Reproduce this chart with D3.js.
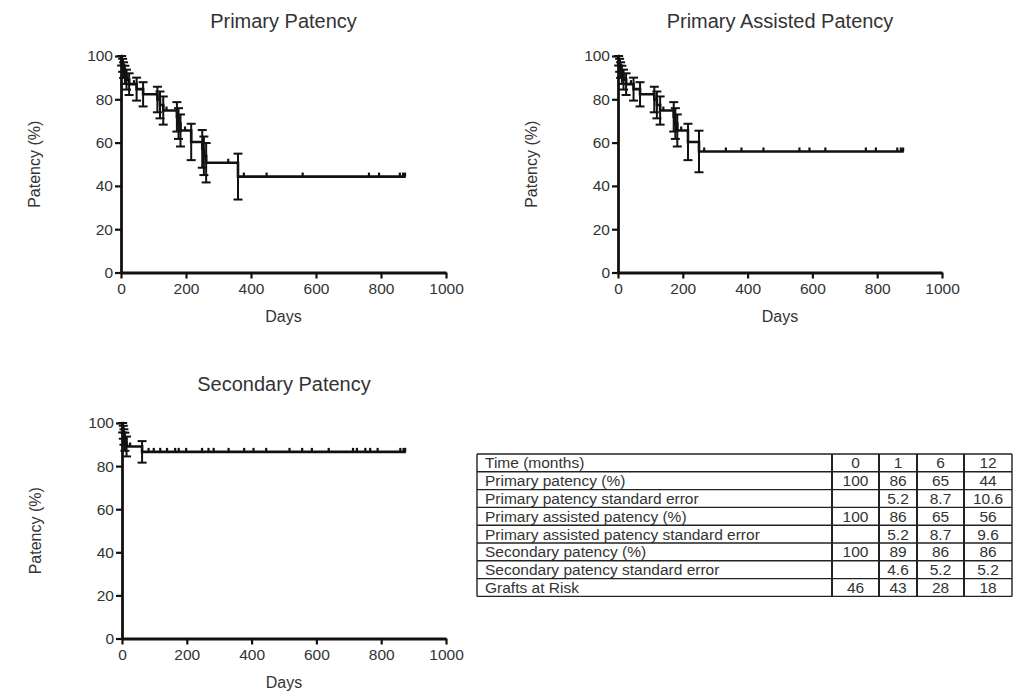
<!DOCTYPE html>
<html>
<head>
<meta charset="utf-8">
<script src="https://cdn.jsdelivr.net/npm/d3@7"></script>
<style>
  body { margin: 0; background: #fff; }
  svg { display: block; }
  text { font-family: Arial, "Liberation Sans", sans-serif; fill: #333; }
</style>
</head>
<body>
<script>
// Kaplan-Meier steps (day of event, patency %, standard error %)
const ppDays = [2, 5, 8, 12, 17, 25, 48, 68, 112, 120, 130, 172, 177, 183, 216, 250, 255, 262, 360];
const ppSurv = [97.8, 95.7, 93.5, 91.3, 89.1, 87.0, 84.7, 82.3, 79.9, 77.4, 74.8, 71.9, 68.8, 65.6, 60.3, 57.1, 53.9, 50.7, 44.3];
const ppSE   = [2.2, 3.0, 3.6, 4.2, 4.6, 5.0, 5.3, 5.6, 5.9, 6.2, 6.5, 6.8, 7.1, 7.4, 8.4, 8.7, 8.9, 9.1, 10.6];
const ppCensored = [40, 140, 197, 330, 378, 448, 559, 763, 794, 858, 868, 874];
const ppEnd = 876;

const paDays = [2, 5, 8, 12, 17, 25, 48, 68, 112, 120, 130, 172, 177, 183, 216, 250];
const paSurv = [97.8, 95.7, 93.5, 91.3, 89.1, 87.0, 84.7, 82.3, 79.9, 77.4, 74.8, 71.9, 68.8, 65.6, 60.3, 55.9];
const paSE   = [2.2, 3.0, 3.6, 4.2, 4.6, 5.0, 5.3, 5.6, 5.9, 6.2, 6.5, 6.8, 7.1, 7.4, 8.4, 9.6];
const paCensored = [40, 140, 195, 266, 333, 381, 449, 560, 591, 640, 765, 796, 862, 873, 880];
const paEnd = 882;

const spDays = [2, 4, 6, 9, 14, 62];
const spSurv = [97.8, 95.7, 93.5, 91.3, 89.1, 86.6];
const spSE   = [2.2, 3.0, 3.6, 4.2, 4.6, 5.0];
const spCensored = [25, 82, 98, 118, 139, 164, 175, 198, 247, 267, 283, 329, 377, 406, 445, 517, 556, 586, 638, 713, 725, 751, 766, 789, 859, 869, 874];
const spEnd = 876;

const xTicks = [0, 200, 400, 600, 800, 1000];
const yTicks = [0, 20, 40, 60, 80, 100];

// Summary table
const tableHeader = ["Time (months)", "0", "1", "6", "12"];
const tableLabels = ["Primary patency (%)", "Primary patency standard error",
  "Primary assisted patency (%)", "Primary assisted patency standard error",
  "Secondary patency (%)", "Secondary patency standard error", "Grafts at Risk"];
const tableValues = [
  ["100", "86", "65", "44"],
  ["", "5.2", "8.7", "10.6"],
  ["100", "86", "65", "56"],
  ["", "5.2", "8.7", "9.6"],
  ["100", "89", "86", "86"],
  ["", "4.6", "5.2", "5.2"],
  ["46", "43", "28", "18"]
];

const width = 1013, height = 693;
const svg = d3.select("body").append("svg")
    .attr("width", width)
    .attr("height", height);

// Draw one survival panel
function drawPanel(opt) {
    const x = d3.scaleLinear().domain([0, 1000]).range([opt.left, opt.right]);
    const y = d3.scaleLinear().domain([0, 100]).range([opt.bottom, opt.top]);
    const g = svg.append("g");

    // Title
    g.append("text")
        .attr("x", (opt.left + opt.right) / 2)
        .attr("y", opt.titleY)
        .attr("text-anchor", "middle")
        .attr("font-size", 20)
        .text(opt.title);

    // Axes
    const xAxis = g.append("g")
        .attr("transform", `translate(0,${opt.bottom})`)
        .call(d3.axisBottom(x).tickValues(xTicks).tickFormat(d3.format("d"))
            .tickSize(6).tickPadding(4).tickSizeOuter(0));
    const yAxis = g.append("g")
        .attr("transform", `translate(${opt.left},0)`)
        .call(d3.axisLeft(y).tickValues(yTicks).tickFormat(d3.format("d"))
            .tickSize(6).tickPadding(2).tickSizeOuter(0));
    [xAxis, yAxis].forEach(a => {
        a.select(".domain").attr("stroke", "#111").attr("stroke-width", 2.8);
        a.selectAll(".tick line").attr("stroke", "#111").attr("stroke-width", 2.2);
        a.selectAll(".tick text").attr("font-size", 15.5).attr("fill", "#333")
            .attr("font-family", "Arial, 'Liberation Sans', sans-serif");
    });

    // Axis titles
    g.append("text")
        .attr("x", (opt.left + opt.right) / 2)
        .attr("y", opt.bottom + 49)
        .attr("text-anchor", "middle")
        .attr("font-size", 16)
        .text("Days");
    g.append("text")
        .attr("transform", `translate(${opt.left - 81},${(opt.top + opt.bottom) / 2}) rotate(-90)`)
        .attr("text-anchor", "middle")
        .attr("font-size", 16)
        .text("Patency (%)");

    // Step curve
    const pts = [[0, 100]];
    opt.days.forEach((d, i) => pts.push([d, opt.surv[i]]));
    pts.push([opt.end, opt.surv[opt.surv.length - 1]]);
    const line = d3.line()
        .x(d => x(d[0]))
        .y(d => y(d[1]))
        .curve(d3.curveStepAfter);
    g.append("path")
        .attr("d", line(pts))
        .attr("fill", "none")
        .attr("stroke", "#111")
        .attr("stroke-width", 2.6);

    // Error bars at each event
    const cap = 4.5;
    const bars = g.append("g").attr("stroke", "#111").attr("stroke-width", 2);
    opt.days.forEach((d, i) => {
        const lo = y(opt.surv[i] - opt.se[i]);
        const hi = y(Math.min(100, opt.surv[i] + opt.se[i]));
        const cx = x(d);
        bars.append("line").attr("x1", cx).attr("x2", cx).attr("y1", lo).attr("y2", hi);
        bars.append("line").attr("x1", cx - cap).attr("x2", cx + cap).attr("y1", lo).attr("y2", lo);
        bars.append("line").attr("x1", cx - cap).attr("x2", cx + cap).attr("y1", hi).attr("y2", hi);
    });

    // Censored marks
    const survAt = day => {
        let s = 100;
        opt.days.forEach((d, i) => { if (d <= day) s = opt.surv[i]; });
        return s;
    };
    g.append("g").selectAll("line")
        .data(opt.censored)
        .join("line")
        .attr("x1", d => x(d)).attr("x2", d => x(d))
        .attr("y1", d => y(survAt(d)))
        .attr("y2", d => y(survAt(d)) - 4)
        .attr("stroke", "#111")
        .attr("stroke-width", 2.2);
}

drawPanel({ title: "Primary Patency", left: 121, right: 446, top: 56, bottom: 272.5, titleY: 28,
    days: ppDays, surv: ppSurv, se: ppSE, censored: ppCensored, end: ppEnd });
drawPanel({ title: "Primary Assisted Patency", left: 618, right: 942, top: 56, bottom: 272.5, titleY: 28,
    days: paDays, surv: paSurv, se: paSE, censored: paCensored, end: paEnd });
drawPanel({ title: "Secondary Patency", left: 122, right: 446, top: 423, bottom: 638.5, titleY: 391,
    days: spDays, surv: spSurv, se: spSE, censored: spCensored, end: spEnd });

// Table
const colEdges = [477, 832, 879, 917, 964, 1012];
const tableTop = 454, rowH = 17.8;
const rows = [tableHeader].concat(tableLabels.map((l, i) => [l].concat(tableValues[i])));
const tg = svg.append("g");
rows.forEach((r, ri) => {
    const yy = tableTop + ri * rowH;
    r.forEach((cell, ci) => {
        const x0 = colEdges[ci], x1 = colEdges[ci + 1];
        tg.append("text")
            .attr("x", ci === 0 ? x0 + 8 : (x0 + x1) / 2)
            .attr("y", yy + rowH - 3.5)
            .attr("text-anchor", ci === 0 ? "start" : "middle")
            .attr("font-size", 15.5)
            .attr("fill", "#444")
            .text(cell);
    });
});
const tLines = tg.append("g").attr("stroke", "#222").attr("stroke-width", 1.4);
d3.range(rows.length + 1).forEach(i => {
    const yy = tableTop + i * rowH;
    tLines.append("line").attr("x1", colEdges[0]).attr("x2", colEdges[colEdges.length - 1])
        .attr("y1", yy).attr("y2", yy);
});
colEdges.forEach(cx => {
    tLines.append("line").attr("x1", cx).attr("x2", cx)
        .attr("y1", tableTop).attr("y2", tableTop + rows.length * rowH)
        .attr("stroke-width", cx === colEdges[0] || cx === colEdges[colEdges.length - 1] ? 1.4 : 2);
});
</script>
</body>
</html>
